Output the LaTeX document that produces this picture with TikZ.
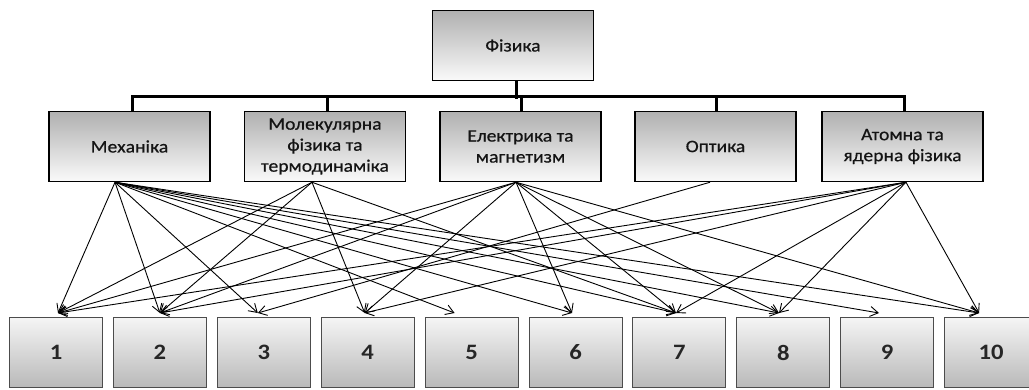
\documentclass[tikz,border=0pt]{standalone}
\usepackage{fontspec}
\setmainfont{Carlito}[FakeStretch=1.12]
\newfontfamily\lblfamily{Carlito}[FakeStretch=1.12,FakeBold=0.6]
\usetikzlibrary{arrows.meta,calc}
\newcommand\lblfont{\lblfamily\fontsize{17.5}{21}\selectfont}
\newcommand\numfont{\fontsize{22}{24}\selectfont\bfseries}
\begin{document}
\begin{tikzpicture}[x=1pt,y=1pt,
  topbox/.style={draw=black, line width=1.5pt, top color=gray!62, bottom color=gray!4,
    minimum width=161pt, minimum height=70pt, inner sep=0pt, align=center, font=\lblfont, text=black!92},
  numbox/.style={draw=black!70, line width=1pt, top color=gray!8, bottom color=gray!55,
    minimum width=93pt, minimum height=70pt, inner sep=0pt, font=\numfont, text=black!85},
  busline/.style={line width=3pt, line join=miter, line cap=rect},
  link/.style={line width=0.9pt, -{Straight Barb[length=8pt,width=10pt,line width=0.9pt]}}]
\useasboundingbox (0,0) rectangle (1029,389);
\clip (0,0) rectangle (1029,389);
\fill[white] (0,0) rectangle (1029,389);

% bottom row
\foreach \i in {1,...,10}
  \node[numbox] (b\i) at ({56+103.9*(\i-1)},36.5) {\i};

% top and middle rows
\node[topbox] (top) at (513,343.5) {Фізика};
\node[topbox] (m1) at (129.5,242.5) {Механіка};
\node[topbox] (m2) at (325,242.5) {Молекулярна\\фізика та\\термодинаміка};
\node[topbox] (m3) at (520.5,242.5) {Електрика та\\магнетизм};
\node[topbox] (m4) at (715.5,242.5) {Оптика};
\node[topbox] (m5) at (902.5,242.5) {Атомна та\\ядерна фізика};

% bus
\draw[busline] ([xshift=3pt]top.south) -- ++(0,-16);
\draw[busline] ([xshift=2.5pt]m1.north) -- ++(0,14) -| ([xshift=1.5pt]m5.north);
\draw[busline] ([xshift=2pt]m2.north) -- ++(0,14);
\draw[busline] ([xshift=0.5pt]m3.north) -- ++(0,14);
\draw[busline] ([xshift=0.5pt]m4.north) -- ++(0,14);

% sources
\coordinate (s1) at ([xshift=-14.5pt]m1.south);
\coordinate (s2) at ([xshift=-13pt]m2.south);
\coordinate (s3) at ([xshift=-4.5pt]m3.south);
\coordinate (s4) at ([xshift=-5.5pt]m4.south);
\coordinate (s5) at ([xshift=3.5pt]m5.south);

% targets
\coordinate (t1) at ([xshift=2pt,yshift=4pt]b1.north);
\coordinate (t2) at ([xshift=0pt,yshift=4pt]b2.north);
\coordinate (t3) at ([xshift=-6pt,yshift=4pt]b3.north);
\coordinate (t4) at ([xshift=-3pt,yshift=4pt]b4.north);
\coordinate (t5) at ([xshift=-17pt,yshift=4pt]b5.north);
\coordinate (t6) at ([xshift=-3.5pt,yshift=4pt]b6.north);
\coordinate (t7) at ([xshift=-3.4pt,yshift=4pt]b7.north);
\coordinate (t8) at ([xshift=-4.3pt,yshift=4pt]b8.north);
\coordinate (t9) at ([xshift=-8.2pt,yshift=4pt]b9.north);
\coordinate (t10) at ([xshift=-12pt,yshift=4pt]b10.north);

\foreach \j in {1,2,3,5,6,7,8,9,10} \draw[link] (s1) -- (t\j);
\foreach \j in {1,2,4,7} \draw[link] (s2) -- (t\j);
\foreach \j in {1,2,4,6,7,8,10} \draw[link] (s3) -- (t\j);
\foreach \j in {3} \draw[link] (s4) -- (t\j);
\foreach \j in {1,2,4,7,8,10} \draw[link] (s5) -- (t\j);
\end{tikzpicture}
\end{document}
